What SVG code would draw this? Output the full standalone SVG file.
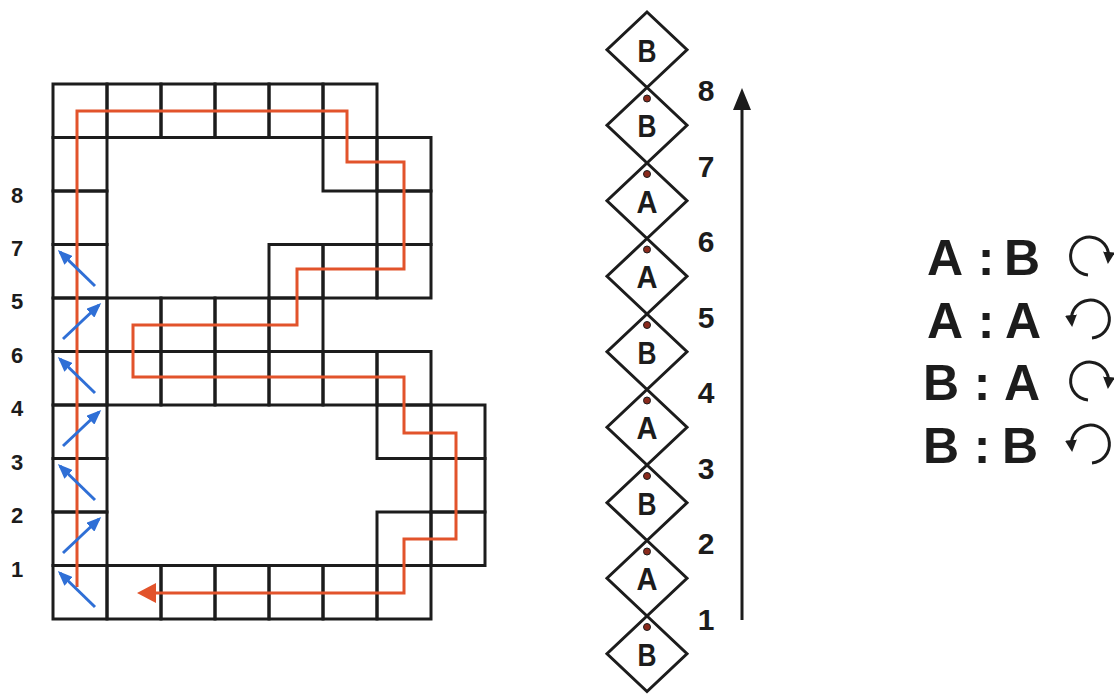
<svg xmlns="http://www.w3.org/2000/svg" width="1114" height="696" viewBox="0 0 1114 696">
<style>
.cell{fill:none;stroke:#1c1c1c;stroke-width:3}
.red{fill:none;stroke:#e2532b;stroke-width:3;stroke-linejoin:miter}
.blue{fill:none;stroke:#2f6fd6;stroke-width:3}
.lbl{font-family:"Liberation Sans",Arial,sans-serif;font-weight:bold;fill:#1c1c1c;text-anchor:middle}
.dl{font-size:32px}
.dia{fill:#fff;stroke:#1c1c1c;stroke-width:3}
.dot{fill:#8a2a1c;stroke:#1c1c1c;stroke-width:1}
.ln{fill:none;stroke:#1c1c1c;stroke-width:3}
</style>
<defs>
<marker id="bh" markerWidth="5" markerHeight="4" refX="4" refY="2" orient="auto" markerUnits="strokeWidth">
<path d="M0,0 L5,2 L0,4 z" fill="#2f6fd6"/>
</marker>
<marker id="ch" markerWidth="4" markerHeight="4" refX="2" refY="2" orient="auto" markerUnits="strokeWidth">
<path d="M0,0 L4,2 L0,4 z" fill="#1c1c1c"/>
</marker>
</defs>

<g id="grid">
<rect class="cell" x="53" y="84" width="54" height="53.5"/>
<rect class="cell" x="107" y="84" width="54" height="53.5"/>
<rect class="cell" x="161" y="84" width="54" height="53.5"/>
<rect class="cell" x="215" y="84" width="54" height="53.5"/>
<rect class="cell" x="269" y="84" width="54" height="53.5"/>
<rect class="cell" x="323" y="84" width="54" height="53.5"/>
<rect class="cell" x="53" y="137.5" width="54" height="53.5"/>
<rect class="cell" x="323" y="137.5" width="54" height="53.5"/>
<rect class="cell" x="377" y="137.5" width="54" height="53.5"/>
<rect class="cell" x="53" y="191" width="54" height="53.5"/>
<rect class="cell" x="377" y="191" width="54" height="53.5"/>
<rect class="cell" x="53" y="244.5" width="54" height="53.5"/>
<rect class="cell" x="269" y="244.5" width="54" height="53.5"/>
<rect class="cell" x="323" y="244.5" width="54" height="53.5"/>
<rect class="cell" x="377" y="244.5" width="54" height="53.5"/>
<rect class="cell" x="53" y="298" width="54" height="53.5"/>
<rect class="cell" x="107" y="298" width="54" height="53.5"/>
<rect class="cell" x="161" y="298" width="54" height="53.5"/>
<rect class="cell" x="215" y="298" width="54" height="53.5"/>
<rect class="cell" x="269" y="298" width="54" height="53.5"/>
<rect class="cell" x="53" y="351.5" width="54" height="53.5"/>
<rect class="cell" x="107" y="351.5" width="54" height="53.5"/>
<rect class="cell" x="161" y="351.5" width="54" height="53.5"/>
<rect class="cell" x="215" y="351.5" width="54" height="53.5"/>
<rect class="cell" x="269" y="351.5" width="54" height="53.5"/>
<rect class="cell" x="323" y="351.5" width="54" height="53.5"/>
<rect class="cell" x="377" y="351.5" width="54" height="53.5"/>
<rect class="cell" x="53" y="405" width="54" height="53.5"/>
<rect class="cell" x="377" y="405" width="54" height="53.5"/>
<rect class="cell" x="431" y="405" width="54" height="53.5"/>
<rect class="cell" x="53" y="458.5" width="54" height="53.5"/>
<rect class="cell" x="431" y="458.5" width="54" height="53.5"/>
<rect class="cell" x="53" y="512" width="54" height="53.5"/>
<rect class="cell" x="377" y="512" width="54" height="53.5"/>
<rect class="cell" x="431" y="512" width="54" height="53.5"/>
<rect class="cell" x="53" y="565.5" width="54" height="53.5"/>
<rect class="cell" x="107" y="565.5" width="54" height="53.5"/>
<rect class="cell" x="161" y="565.5" width="54" height="53.5"/>
<rect class="cell" x="215" y="565.5" width="54" height="53.5"/>
<rect class="cell" x="269" y="565.5" width="54" height="53.5"/>
<rect class="cell" x="323" y="565.5" width="54" height="53.5"/>
<rect class="cell" x="377" y="565.5" width="54" height="53.5"/>
</g>

<g id="row-labels" class="lbl" font-size="22">
<text x="17" y="203">8</text>
<text x="17" y="256">7</text>
<text x="17" y="309">5</text>
<text x="17" y="363">6</text>
<text x="17" y="416">4</text>
<text x="17" y="470">3</text>
<text x="17" y="523">2</text>
<text x="17" y="577">1</text>
</g>

<g id="connectors">
<g id="red-path">
<polyline class="red" points="77,587 77,111 347,111 347,162 404,162 404,269 297,269 297,325 133,325 133,377 404,377 404,433 456,433 456,539 404,539 404,593 152,593"/>
<polygon points="137,593 156,583 156,603" fill="#e2532b"/>
</g>
<g id="blue-arrows">
<line class="blue" x1="95" y1="286" x2="60" y2="252" marker-end="url(#bh)"/>
<line class="blue" x1="63" y1="339" x2="99" y2="305" marker-end="url(#bh)"/>
<line class="blue" x1="95" y1="393" x2="60" y2="359" marker-end="url(#bh)"/>
<line class="blue" x1="63" y1="446" x2="99" y2="412" marker-end="url(#bh)"/>
<line class="blue" x1="95" y1="500" x2="60" y2="466" marker-end="url(#bh)"/>
<line class="blue" x1="63" y1="553" x2="99" y2="519" marker-end="url(#bh)"/>
<line class="blue" x1="95" y1="607" x2="60" y2="573" marker-end="url(#bh)"/>
</g>
<g id="up-arrow">
<line class="ln" x1="742" y1="620" x2="742" y2="104"/>
<polygon points="742,88 733,110 751,110" fill="#1c1c1c"/>
</g>
</g>

<g id="chain">
<g id="d1"><polygon class="dia" points="647,12 687,49.75 647,87.5 607,49.75"/><text class="lbl dl" x="647" y="61.5" textLength="19" lengthAdjust="spacingAndGlyphs">B</text></g>
<g id="d2"><polygon class="dia" points="647,87.5 687,125.25 647,163 607,125.25"/><text class="lbl dl" x="647" y="137" textLength="19" lengthAdjust="spacingAndGlyphs">B</text></g>
<g id="d3"><polygon class="dia" points="647,163 687,200.75 647,238.5 607,200.75"/><text class="lbl dl" x="647" y="212.5" textLength="21" lengthAdjust="spacingAndGlyphs">A</text></g>
<g id="d4"><polygon class="dia" points="647,238.5 687,276.25 647,314 607,276.25"/><text class="lbl dl" x="647" y="288" textLength="21" lengthAdjust="spacingAndGlyphs">A</text></g>
<g id="d5"><polygon class="dia" points="647,314 687,351.75 647,389.5 607,351.75"/><text class="lbl dl" x="647" y="363.5" textLength="19" lengthAdjust="spacingAndGlyphs">B</text></g>
<g id="d6"><polygon class="dia" points="647,389.5 687,427.25 647,465 607,427.25"/><text class="lbl dl" x="647" y="439" textLength="21" lengthAdjust="spacingAndGlyphs">A</text></g>
<g id="d7"><polygon class="dia" points="647,465 687,502.75 647,540.5 607,502.75"/><text class="lbl dl" x="647" y="514.5" textLength="19" lengthAdjust="spacingAndGlyphs">B</text></g>
<g id="d8"><polygon class="dia" points="647,540.5 687,578.25 647,616 607,578.25"/><text class="lbl dl" x="647" y="590" textLength="21" lengthAdjust="spacingAndGlyphs">A</text></g>
<g id="d9"><polygon class="dia" points="647,616 687,653.75 647,691.5 607,653.75"/><text class="lbl dl" x="647" y="665.5" textLength="19" lengthAdjust="spacingAndGlyphs">B</text></g>
<g id="dots">
<circle class="dot" cx="647" cy="98.5" r="3.5"/>
<circle class="dot" cx="647" cy="174" r="3.5"/>
<circle class="dot" cx="647" cy="249.5" r="3.5"/>
<circle class="dot" cx="647" cy="325" r="3.5"/>
<circle class="dot" cx="647" cy="400.5" r="3.5"/>
<circle class="dot" cx="647" cy="476" r="3.5"/>
<circle class="dot" cx="647" cy="551.5" r="3.5"/>
<circle class="dot" cx="647" cy="627" r="3.5"/>
</g>
</g>

<g id="chain-numbers" class="lbl" font-size="30">
<text x="706" y="101">8</text>
<text x="706" y="176.5">7</text>
<text x="706" y="252">6</text>
<text x="706" y="327.5">5</text>
<text x="706" y="403">4</text>
<text x="706" y="478.5">3</text>
<text x="706" y="554">2</text>
<text x="706" y="629.5">1</text>
</g>

<g id="legend" class="lbl" font-size="50">
<g id="leg1"><text x="945" y="275">A</text><text x="986" y="275">:</text><text x="1022" y="275">B</text>
<path class="ln" d="M1088,275 A19,19 0 1 1 1108.5,258" marker-end="url(#ch)"/></g>
<g id="leg2"><text x="945" y="338">A</text><text x="986" y="338">:</text><text x="1023" y="338">A</text>
<path class="ln" d="M1092,338 A19,19 0 1 0 1071.5,321" marker-end="url(#ch)"/></g>
<g id="leg3"><text x="941" y="400">B</text><text x="982" y="400">:</text><text x="1022" y="400">A</text>
<path class="ln" d="M1088,400 A19,19 0 1 1 1108.5,383" marker-end="url(#ch)"/></g>
<g id="leg4"><text x="941" y="463">B</text><text x="982" y="463">:</text><text x="1020" y="463">B</text>
<path class="ln" d="M1092,463 A19,19 0 1 0 1071.5,446" marker-end="url(#ch)"/></g>
</g>
</svg>
